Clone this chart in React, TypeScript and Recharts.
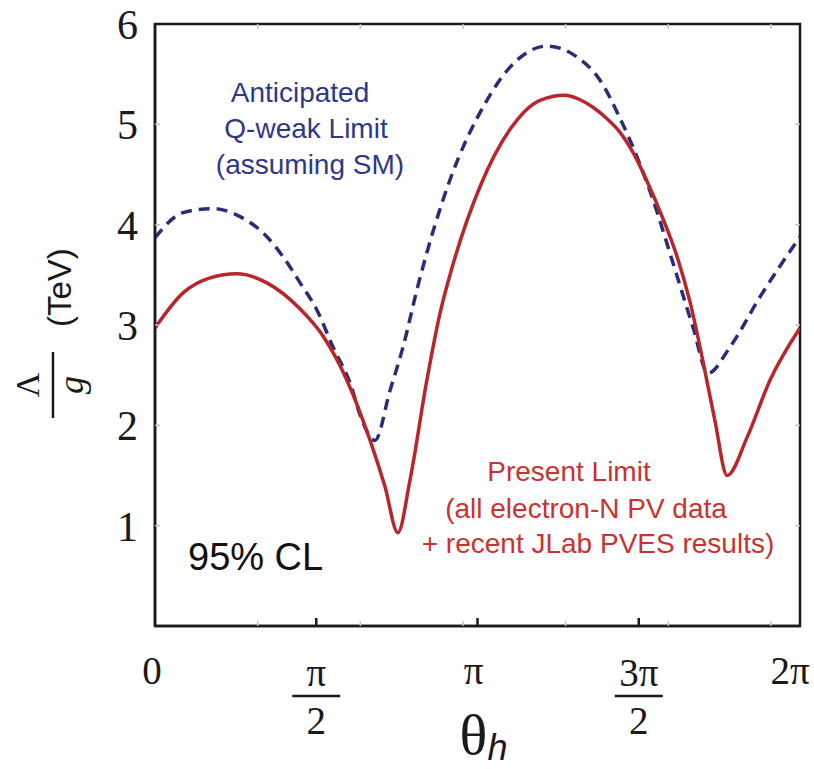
import React from "react";
import { LineChart, Line, XAxis, YAxis, Label, ReferenceArea } from "recharts";

// theta in units of pi, limit in TeV
const presentTheta = [
  0, 0.087, 0.171, 0.254, 0.347, 0.45, 0.521, 0.595, 0.667, 0.713, 0.753,
  0.791, 0.843, 0.884, 0.921, 1.008, 1.101, 1.194, 1.271, 1.315, 1.358, 1.4,
  1.442, 1.482, 1.526, 1.575, 1.619, 1.659, 1.699, 1.736, 1.774, 1.836,
  1.907, 2.0,
];
const presentLimit = [
  2.97, 3.32, 3.47, 3.51, 3.42, 3.16, 2.89, 2.45, 1.85, 1.39, 0.93, 1.46,
  2.45, 3.12, 3.57, 4.38, 4.95, 5.24, 5.29, 5.25, 5.17, 5.06, 4.92, 4.72,
  4.43, 4.06, 3.68, 3.23, 2.64, 2.05, 1.5, 1.88, 2.45, 2.97,
];

const qweakTheta = [
  0, 0.087, 0.177, 0.264, 0.347, 0.397, 0.45, 0.502, 0.552, 0.605, 0.642,
  0.682, 0.729, 0.769, 0.816, 0.915, 1.017, 1.101, 1.216, 1.309, 1.38,
  1.442, 1.504, 1.544, 1.606, 1.668, 1.715, 1.783, 1.876, 2.0,
];
const qweakLimit = [
  3.87, 4.12, 4.16, 4.08, 3.88, 3.68, 3.42, 3.15, 2.78, 2.42, 2.05, 1.85,
  2.35, 2.78, 3.4, 4.45, 5.17, 5.57, 5.78, 5.67, 5.44, 5.06, 4.6, 4.25,
  3.62, 2.98, 2.52, 2.78, 3.28, 3.88,
];

const piTicks = [0, 0.5, 1, 1.5, 2];
const piLabels = ["0", "π/2", "π", "3π/2", "2π"];
const radianTicks = [1, 2, 3, 4, 5, 6].map((r) => r / Math.PI);
const yTicks = [0, 1, 2, 3, 4, 5, 6];

const presentData = presentTheta.map((t, i) => ({ theta: t, limit: presentLimit[i] }));
const qweakData = qweakTheta.map((t, i) => ({ theta: t, limit: qweakLimit[i] }));

const SERIF = "'Liberation Serif', 'DejaVu Serif', serif";
const SANS = "'Liberation Sans', Arial, sans-serif";
const FAINT = "#c4c4c4";
const INK = "#1a1a1a";
const PLOT_W = 645;
const PLOT_H = 602;

function BottomTick({ x, y, payload }: any) {
  const v = payload.value;
  const i = piTicks.indexOf(v);
  if (i < 0) {
    // faint radian ticks, bottom and top of the frame
    return (
      <g stroke={FAINT} strokeWidth={1.5}>
        <line x1={x} x2={x} y1={y} y2={y - 5} />
        <line x1={x} x2={x} y1={y - PLOT_H} y2={y - PLOT_H + 5} />
      </g>
    );
  }
  const label = piLabels[i];
  const major = v > 0 && v < 2;
  const tick = major ? (
    <line x1={x} x2={x} y1={y} y2={y - 8} stroke={INK} strokeWidth={2.5} />
  ) : null;
  if (label.includes("/")) {
    const [num, den] = label.split("/");
    return (
      <g>
        {tick}
        <text x={x} y={y + 60} textAnchor="middle" fontFamily={SERIF} fontSize={39} fill={INK}>
          {num}
        </text>
        <line x1={x - 24} x2={x + 24} y1={y + 70} y2={y + 70} stroke={INK} strokeWidth={2.5} />
        <text x={x} y={y + 108} textAnchor="middle" fontFamily={SERIF} fontSize={39} fill={INK}>
          {den}
        </text>
      </g>
    );
  }
  const shift = v === 2 ? -10 : v === 0 ? -3 : -4;
  return (
    <g>
      {tick}
      <text x={x + shift} y={y + 58} textAnchor="middle" fontFamily={SERIF} fontSize={39} fill={INK}>
        {label}
      </text>
    </g>
  );
}

function LeftTick({ x, y, payload }: any) {
  const v = payload.value;
  return (
    <g>
      {v > 0 && v < 6 && (
        <g stroke={FAINT} strokeWidth={1.5}>
          <line x1={x} x2={x + 5} y1={y} y2={y} />
          <line x1={x + PLOT_W} x2={x + PLOT_W - 5} y1={y} y2={y} />
        </g>
      )}
      {v > 0 && (
        <text x={x - 17} y={y} dy="0.36em" textAnchor="end" fontFamily={SERIF} fontSize={42} fill={INK}>
          {v}
        </text>
      )}
    </g>
  );
}

function ThetaLabel({ viewBox }: any) {
  const cx = viewBox.x + viewBox.width * 0.5 + 6;
  const by = viewBox.y + 128;
  return (
    <text x={cx} y={by} textAnchor="middle" fill={INK}>
      <tspan fontFamily={SERIF} fontSize={58}>θ</tspan>
      <tspan fontFamily={SANS} fontStyle="italic" fontSize={36} dy={6}>h</tspan>
    </text>
  );
}

function YTitle() {
  return (
    <g transform="translate(53,385) rotate(-90)" fill={INK}>
      <text x={0} y={-14} textAnchor="middle" fontFamily={SERIF} fontSize={34}>Λ</text>
      <line x1={-33} x2={33} y1={0} y2={0} stroke={INK} strokeWidth={2.5} />
      <text x={0} y={30} textAnchor="middle" fontFamily={SERIF} fontStyle="italic" fontSize={36}>g</text>
      <text x={58} y={18} fontFamily={SANS} fontSize={33}>(TeV)</text>
    </g>
  );
}

export default function App() {
  return (
    <div style={{ position: "absolute", left: 0, top: 0, background: "#fff" }}>
      <LineChart width={814} height={769} margin={{ top: 24, right: 14, left: 0, bottom: 0 }}>
        <XAxis
          xAxisId="bottom"
          type="number"
          dataKey="theta"
          domain={[0, 2]}
          ticks={[...piTicks, ...radianTicks]}
          interval={0}
          allowDataOverflow
          height={143}
          tickSize={0}
          tickMargin={0}
          tickLine={false}
          axisLine={{ stroke: INK, strokeWidth: 2.5 }}
          tick={<BottomTick />}
        >
          <Label content={<ThetaLabel />} />
        </XAxis>
        <YAxis
          yAxisId="left"
          type="number"
          domain={[0, 6]}
          ticks={yTicks}
          interval={0}
          width={155}
          tickSize={0}
          tickMargin={0}
          tickLine={false}
          axisLine={{ stroke: INK, strokeWidth: 2.5 }}
          tick={<LeftTick />}
        />
        <ReferenceArea
          xAxisId="bottom"
          yAxisId="left"
          x1={0}
          x2={2}
          y1={0}
          y2={6}
          fill="none"
          stroke={INK}
          strokeWidth={2.5}
          ifOverflow="visible"
        />
        <Line
          xAxisId="bottom"
          yAxisId="left"
          data={qweakData}
          dataKey="limit"
          type="monotone"
          stroke="#282d78"
          strokeWidth={3.5}
          strokeDasharray="11 7"
          dot={false}
          isAnimationActive={false}
        />
        <Line
          xAxisId="bottom"
          yAxisId="left"
          data={presentData}
          dataKey="limit"
          type="monotone"
          stroke="#b8262c"
          strokeWidth={3.5}
          dot={false}
          isAnimationActive={false}
        />
        <YTitle />
        <g fontFamily={SANS} fontSize={28} textAnchor="middle" fill="#2f3789">
          <text x={300} y={102}>Anticipated</text>
          <text x={306} y={138}>Q-weak Limit</text>
          <text x={310} y={174}>(assuming SM)</text>
        </g>
        <g fontFamily={SANS} fontSize={28} textAnchor="middle" fill="#c8332f">
          <text x={569} y={481}>Present Limit</text>
          <text x={586} y={518}>(all electron-N PV data</text>
          <text x={598} y={553}>+ recent JLab PVES results)</text>
        </g>
        <text x={188} y={570} fontFamily={SANS} fontSize={38} fill="#111">
          95% CL
        </text>
      </LineChart>
    </div>
  );
}
